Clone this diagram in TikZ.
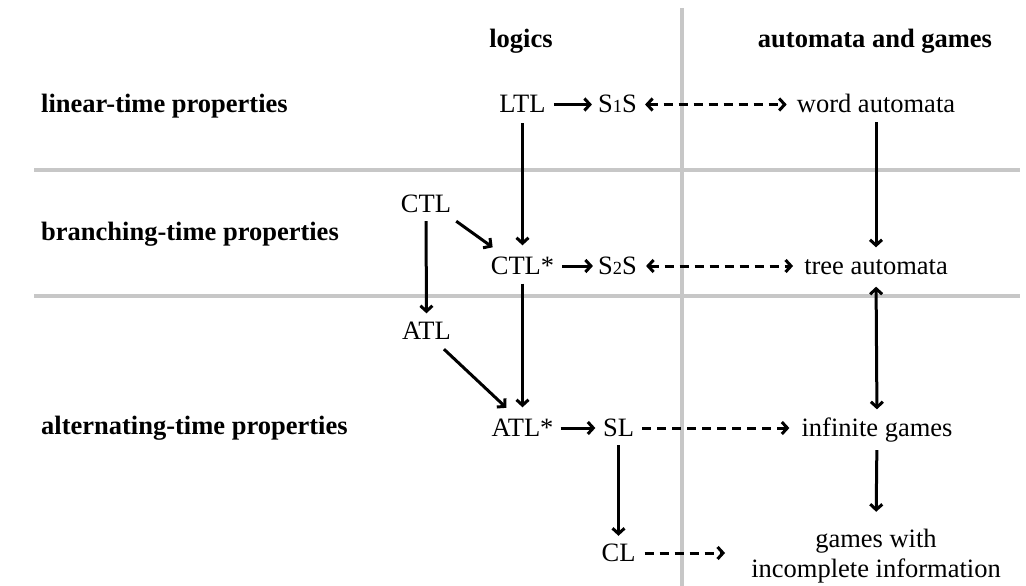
\documentclass[tikz,border=0pt]{standalone}
\usepackage{fontspec}
\setmainfont{Liberation Serif}
\usetikzlibrary{arrows.meta}
% old-style figure look-alike for the monadic logics
\newcommand{\osf}[1]{{\fontsize{18.5}{20}\selectfont #1}}
\begin{document}
\begin{tikzpicture}[x=1pt,y=-1pt,
  txt/.style={font=\fontsize{26.5}{30}\selectfont, inner sep=0pt, text height=17pt, text depth=0pt, anchor=center},
  head/.style={font=\fontsize{26.5}{30}\selectfont\bfseries, inner sep=0pt, anchor=base},
  rowlabel/.style={head, anchor=base west},
  rule/.style={draw=black!22, line width=4pt},
  arr/.style={line width=3pt, -{Straight Barb[length=5.5pt,width=12pt]}},
  bi/.style={line width=3pt, {Straight Barb[length=5.5pt,width=12pt]}-{Straight Barb[length=5.5pt,width=12pt]}},
  darr/.style={arr, dash pattern=on 9pt off 6pt},
  dbi/.style={bi, dash pattern=on 9pt off 6pt}]
\useasboundingbox (0,0) rectangle (1026,586);

% grid rules
\draw[rule] (682,8) -- (682,586);
\draw[rule] (34,170) -- (1020,170);
\draw[rule] (34,296) -- (1020,296);

% headings
\node[head] (hlog) at (521,48) {logics};
\node[head] (haut) at (875,48) {automata and games};
\node[rowlabel] (rlin) at (41,112) {linear-time properties};
\node[rowlabel] (rbra) at (41,240) {branching-time properties};
\node[rowlabel] (ralt) at (41,434) {alternating-time properties};

% logics
\node[txt] (LTL)  at (522.5,104.5) {LTL};
\node[txt] (S1S)  at (617.5,104.5) {S\osf{1}S};
\node[txt] (CTL)  at (426,203.5) {CTL};
\node[txt] (CTLs) at (522.5,266) {CTL*};
\node[txt] (S2S)  at (617.5,266) {S\osf{2}S};
\node[txt] (ATL)  at (426.5,331) {ATL};
\node[txt] (ATLs) at (522.5,428) {ATL*};
\node[txt] (SL)   at (618.5,428) {SL};
\node[txt] (CL)   at (618.5,553) {CL};

% automata and games
\node[txt] (word) at (876,104.5) {word automata};
\node[txt] (tree) at (876,266) {tree automata};
\node[txt] (inf)  at (877,428) {infinite games};
\node[font=\fontsize{26.5}{30}\selectfont, inner sep=0pt, align=center] (inc) at (876,556) {games with\\incomplete information};

% row 1
\draw[arr] ([xshift=8pt]LTL.east) -- ([xshift=-6pt]S1S.west);
\draw[dbi] ([xshift=8pt]S1S.east) -- ([xshift=-10pt]word.west);
\draw[arr, shorten <=10pt, shorten >=12pt] (LTL.south) -- (CTLs.north);
\draw[arr, shorten <=9pt, shorten >=10pt] (word.south) -- (tree.north);

% row 2
\draw[arr] ([shift={(5,9)}]CTL.south east) -- ([shift={(2,-10)}]CTLs.north west);
\draw[arr, shorten <=9pt, shorten >=9pt] (CTL.south) -- (ATL.north);
\draw[arr] ([xshift=8pt]CTLs.east) -- ([xshift=-5pt]S2S.west);
\draw[dbi] ([xshift=9pt]S2S.east) -- ([xshift=-11pt]tree.west);
\draw[arr, shorten <=9pt, shorten >=12pt] (CTLs.south) -- (ATLs.north);
\draw[bi, shorten <=12pt, shorten >=10pt] (tree.south) -- (inf.north);

% row 3
\draw[arr] ([shift={(-7,9.5)}]ATL.south east) -- ([shift={(15,-11.5)}]ATLs.north west);
\draw[arr] ([xshift=7pt]ATLs.east) -- ([xshift=-7.5pt]SL.west);
\draw[darr] ([xshift=8pt]SL.east) -- ([xshift=-12pt]inf.west);
\draw[arr, shorten <=13.5pt, shorten >=17pt] (inf.south) -- (inc.north);
\draw[arr, shorten <=8.5pt, shorten >=8.5pt] (SL.south) -- (CL.north);
\draw[darr, shorten <=9pt, shorten >=26pt] (CL.east) -- (CL.east -| inc.west);
\end{tikzpicture}
\end{document}
